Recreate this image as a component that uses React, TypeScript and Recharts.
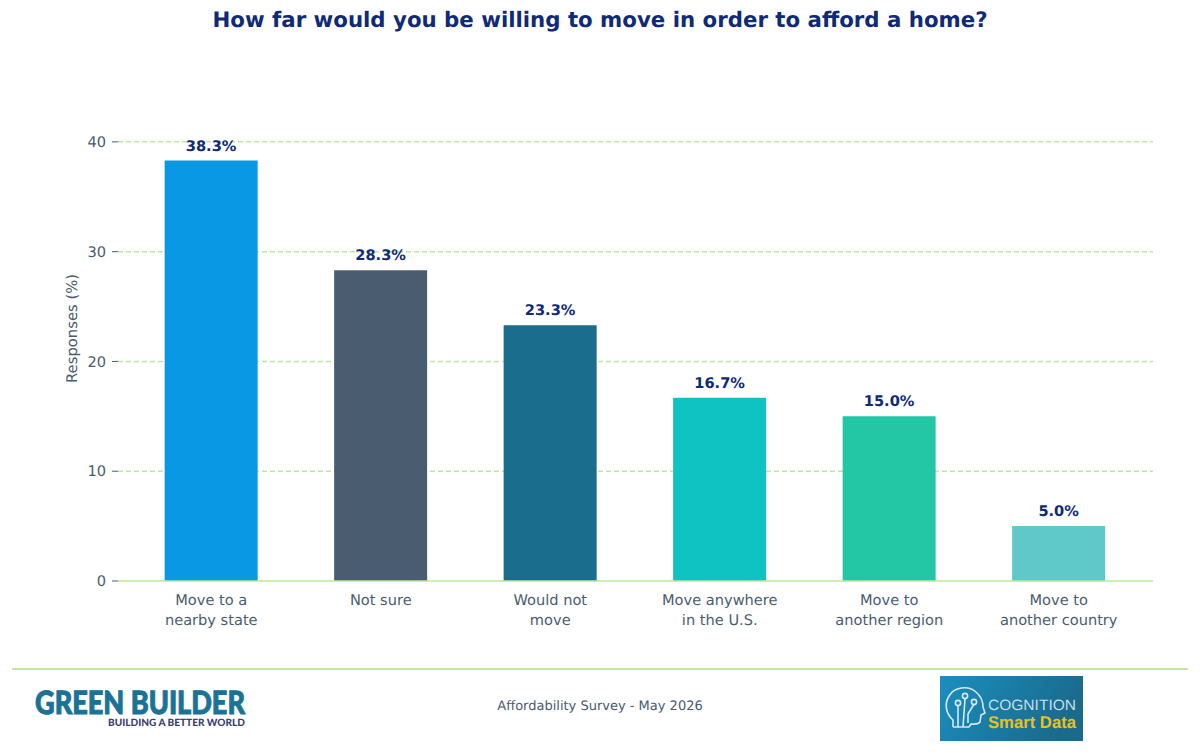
import React from "react";
import { BarChart, Bar, XAxis, YAxis, CartesianGrid, Cell, LabelList, Label } from "recharts";

const categories = ["Move to a\nnearby state", "Not sure", "Would not\nmove", "Move anywhere\nin the U.S.", "Move to\nanother region", "Move to\nanother country"];
const responses = [38.3, 28.3, 23.3, 16.7, 15.0, 5.0];
const barColors = ["#0998e3", "#4a5c70", "#1a6d8c", "#0ec3c2", "#24c7a5", "#5fc8c9"];
const yTicks = [0, 10, 20, 30, 40];
const yDomain = [0, 46];
const data = categories.map((category, i) => ({ category, value: responses[i] }));

const FONT = "'DejaVu Sans', sans-serif";
const SLATE = "#4a5c70";
const NAVY = "#0f2a78";
const GREEN = "#bbe89a";

const CategoryTick = (props: any) => {
  const { x, y, payload } = props;
  const lines = String(payload.value).split("\n");
  return (
    <text x={x} y={y} textAnchor="middle" fontFamily={FONT} fontSize={14.6} fill={SLATE}>
      {lines.map((line, i) => (
        <tspan key={i} x={x} y={y + 16 + i * 20}>{line}</tspan>
      ))}
    </text>
  );
};

const GreenBuilderLogo = () => (
  <svg width={320} height={70} style={{ position: "absolute", left: 25, top: 672 }}>
    <text x={10} y={42} fontFamily="Lato, 'Open Sans', sans-serif" fontWeight={900} fontSize={32} fill="#1a7396" stroke="#1a7396" strokeWidth={1} textLength={210} lengthAdjust="spacingAndGlyphs">GREEN BUILDER</text>
    <text x={83} y={54} fontFamily="Lato, 'Open Sans', sans-serif" fontWeight={900} fontSize={10} fill="#3a3f6e" textLength={137} lengthAdjust="spacingAndGlyphs">BUILDING A BETTER WORLD</text>
  </svg>
);

const CognitionLogo = () => (
  <svg width={143} height={65} style={{ position: "absolute", left: 940, top: 676 }}>
    <defs>
      <linearGradient id="cogBg" x1="0" y1="0" x2="1" y2="0.3">
        <stop offset="0%" stopColor="#1a8fbf" />
        <stop offset="100%" stopColor="#1a6a8c" />
      </linearGradient>
    </defs>
    <rect width={143} height={65} fill="url(#cogBg)" />
    <g fill="none" stroke="#d6e8f0" strokeWidth={1.6}>
      <path d="M13 51 L13 44 C6 38 4 28 9 20 C14 11 28 9 36 16 C42 21 43 27 43 31 L45 37 L41 39 L40 46 C38 49 34 48 31 48 L29 51 L13 51" />
      <path d="M18 51 L18 30 M23 51 L25 23 M28 47 L28 38 L34 28" />
      <circle cx={18} cy={27} r={2.6} />
      <circle cx={25} cy={20} r={2.6} />
      <circle cx={34} cy={26} r={2.6} />
    </g>
    <text x={48} y={34} fontFamily="Liberation Sans, sans-serif" fontSize={15} fill="#c6dde8" textLength={88} lengthAdjust="spacingAndGlyphs">COGNITION</text>
    <text x={48} y={52} fontFamily="Liberation Sans, sans-serif" fontWeight={700} fontSize={17} fill="#e8c020" textLength={88} lengthAdjust="spacingAndGlyphs">Smart Data</text>
  </svg>
);

export default function App() {
  return (
    <div style={{ position: "absolute", left: 0, top: 0, width: 1200, height: 753, background: "#fff", overflow: "hidden", textRendering: "geometricPrecision" }}>
      <div style={{ position: "absolute", left: 0, top: 8, width: 1200, textAlign: "center", fontFamily: FONT, fontWeight: 700, fontSize: 21.3, lineHeight: "26px", color: NAVY }}>
        How far would you be willing to move in order to afford a home?
      </div>
      <BarChart width={1200} height={753} data={data} margin={{ top: 76, right: 47, bottom: 112, left: 58 }} barCategoryGap="22.5%" style={{ position: "absolute", left: 0, top: 0 }}>
        <CartesianGrid horizontal vertical={false} horizontalValues={yTicks.slice(1)} stroke={GREEN} strokeWidth={1.5} strokeDasharray="5 3" />
        <XAxis dataKey="category" interval={0} height={60} padding={{ left: 8.5, right: 9.5 }} axisLine={{ stroke: GREEN, strokeWidth: 1.5 }} tickLine={false} tick={<CategoryTick />} />
        <YAxis width={60} domain={yDomain} ticks={yTicks} axisLine={false} tickLine={{ stroke: SLATE, strokeWidth: 1 }} tickSize={6} tickMargin={6} tick={{ fontFamily: FONT, fontSize: 14.6, fill: SLATE }}>
          <Label value="Responses (%)" angle={-90} position="insideLeft" offset={14} style={{ fontFamily: FONT, fontSize: 14.8, fill: SLATE, textAnchor: "middle" }} />
        </YAxis>
        <Bar dataKey="value" isAnimationActive={false}>
          {data.map((_, i) => <Cell key={i} fill={barColors[i]} />)}
          <LabelList dataKey="value" position="top" offset={10} formatter={(v: number) => `${v.toFixed(1)}%`} style={{ fontFamily: FONT, fontWeight: 700, fontSize: 14.6, fill: NAVY }} />
        </Bar>
      </BarChart>
      <div style={{ position: "absolute", left: 12, top: 668, width: 1176, height: 2, background: "#c5e8a0" }} />
      <GreenBuilderLogo />
      <div style={{ position: "absolute", left: 0, top: 698, width: 1200, textAlign: "center", fontFamily: FONT, fontSize: 13, lineHeight: "17px", color: SLATE }}>
        Affordability Survey - May 2026
      </div>
      <CognitionLogo />
    </div>
  );
}
